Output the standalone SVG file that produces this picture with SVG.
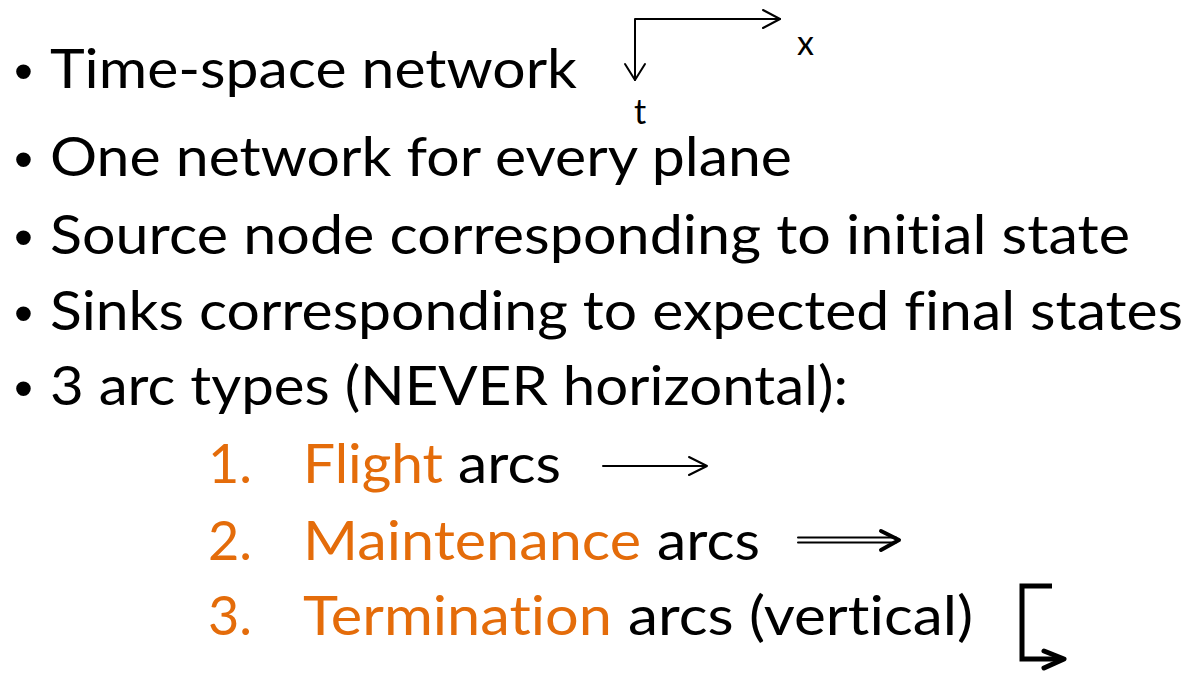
<svg xmlns="http://www.w3.org/2000/svg" width="1188" height="673" viewBox="0 0 1188 673">
<style>
.t{font-family:Lato,"Open Sans",sans-serif;font-size:54px;fill:#000;font-variant-ligatures:none}
.o{fill:#E46C0A}
.b{font-family:"Liberation Sans",Arial,sans-serif;font-size:54px;fill:#000}
.s{font-family:Lato,"Open Sans",sans-serif;font-size:34px;fill:#000}
.ln{fill:none;stroke:#000;stroke-width:2;stroke-linecap:round;stroke-linejoin:round}
</style>
<rect width="1188" height="673" fill="#fff"/>
<g id="bullets">
<text class="b" x="14" y="90">•</text>
<text class="b" x="14" y="178">•</text>
<text class="b" x="14" y="256">•</text>
<text class="b" x="14" y="332">•</text>
<text class="b" x="14" y="407">•</text>
</g>
<g id="lines">
<text class="t" x="50" y="88" textLength="527" lengthAdjust="spacingAndGlyphs">Time-space network</text>
<text class="t" x="50" y="176" textLength="742" lengthAdjust="spacingAndGlyphs">One network for every plane</text>
<text class="t" x="50" y="254" textLength="1080" lengthAdjust="spacingAndGlyphs">Source node corresponding to initial state</text>
<text class="t" x="50" y="330" textLength="1133" lengthAdjust="spacingAndGlyphs">Sinks corresponding to expected final states</text>
<text class="t" x="50" y="405" textLength="798" lengthAdjust="spacingAndGlyphs">3 arc types (NEVER horizontal):</text>
</g>
<g id="item1">
<text class="t o" x="208" y="483">1.</text>
<text class="t o" x="303" y="483" textLength="140" lengthAdjust="spacingAndGlyphs">Flight</text>
<text class="t" x="458" y="483" textLength="103" lengthAdjust="spacingAndGlyphs">arcs</text>
</g>
<g id="item2">
<text class="t o" x="208" y="560">2.</text>
<text class="t o" x="303" y="560" textLength="338" lengthAdjust="spacingAndGlyphs">Maintenance</text>
<text class="t" x="657" y="560" textLength="103" lengthAdjust="spacingAndGlyphs">arcs</text>
</g>
<g id="item3">
<text class="t o" x="208" y="635">3.</text>
<text class="t o" x="303" y="635" textLength="309" lengthAdjust="spacingAndGlyphs">Termination</text>
<text class="t" x="628" y="635" textLength="345" lengthAdjust="spacingAndGlyphs">arcs (vertical)</text>
</g>
<g id="axes">
<text class="s" x="797" y="55">x</text>
<text class="s" x="634" y="124">t</text>
</g>
<g id="connectors">
<path class="ln" d="M635 80 V19 H780"/>
<path class="ln" d="M763 10 L780 19 L763 28"/>
<path class="ln" d="M625 64 L635 80 L645 64"/>
<path class="ln" d="M603 466 H707 M689 457 L707 466 L689 475"/>
<path class="ln" d="M798 537.5 H896 M798 542.5 H896"/>
<path class="ln" style="stroke-width:4" d="M881 531 L899 540 L881 550"/>
<path class="ln" style="stroke-width:5;stroke-linecap:butt;stroke-linejoin:miter" d="M1052 586 H1022 V659 H1062"/>
<path class="ln" style="stroke-width:5" d="M1044 651 L1064 659 L1044 668"/>
</g>
</svg>
